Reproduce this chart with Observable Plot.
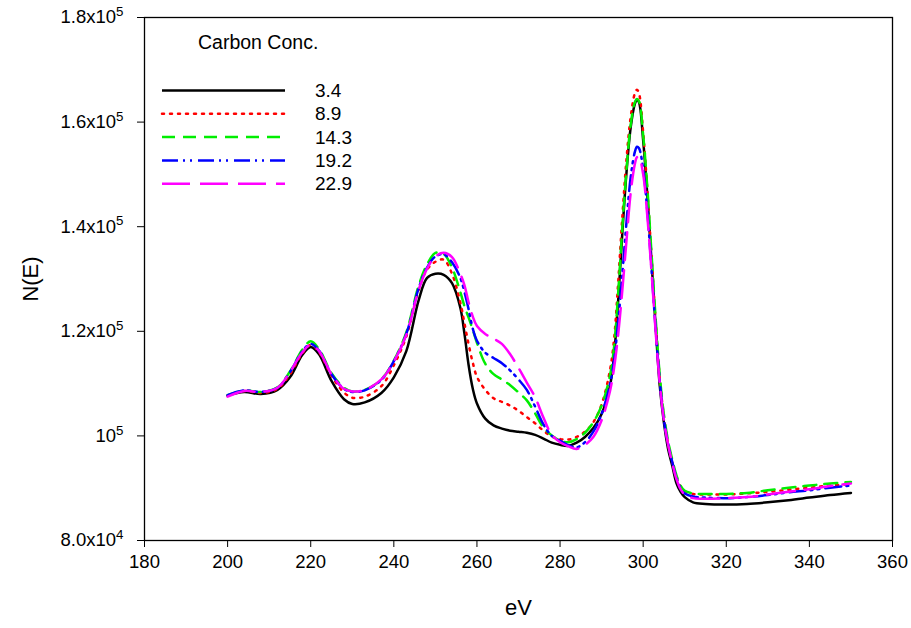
<!DOCTYPE html>
<html>
<head>
<meta charset="utf-8">
<script src="https://cdn.jsdelivr.net/npm/d3@7"></script>
<script src="https://cdn.jsdelivr.net/npm/@observablehq/plot@0.6"></script>
<style>
  body { margin: 0; background: #fff; }
  #wrap { position: relative; width: 911px; height: 628px; }
  #wrap svg { position: absolute; left: 0; top: 0; }
</style>
</head>
<body>
<div id="wrap"></div>
<script>
// Energy (eV) sample points
const eV = [200,204,208,212,215,218,220,222,225,228,230,233,237,240,243,246,248,250,252,254,256,257,258,259,260,262,264,266,268,270,272,274,276,278,280,282,284,286,288,290,292,293,294,295,296,297,298,298.5,299,300,301,302,303,304,305,306,307,308,309,310,312,315,320,325,330,335,340,345,350];

// N(E) in units of 10^3
const c34 = [107.7,108.4,108.0,108.8,111.2,115.5,117.0,115.6,110.5,107.0,106.1,106.4,108.2,111.2,116.2,126.0,130.2,131.0,130.8,129.2,124.5,119.5,113.5,109.0,106.2,103.3,102.0,101.4,101.0,100.8,100.6,100.2,99.5,98.7,98.3,98.1,98.7,99.8,101.5,104.2,109.5,115.5,126.0,139.0,150.5,159.0,163.5,164.3,163.8,156.5,146.0,133.5,121.0,109.5,102.5,97.5,94.3,91.0,89.3,88.3,87.3,87.0,86.9,87.0,87.3,87.7,88.2,88.7,89.1];
const c89 = [107.7,108.6,108.2,109.0,111.8,115.8,117.4,116.0,111.5,108.3,107.3,107.5,109.5,113.5,119.0,128.0,131.8,133.3,133.7,131.0,125.5,121.5,117.5,114.0,111.3,108.8,107.2,106.5,105.8,104.8,103.6,102.4,101.0,99.9,99.4,99.3,99.8,100.8,102.6,106.0,112.5,118.5,129.5,142.0,153.0,161.0,165.5,166.2,165.5,158.0,147.0,134.5,122.0,111.0,103.5,98.5,95.0,92.0,90.3,89.4,88.9,88.8,88.8,89.0,89.3,89.7,90.1,90.5,90.8];
const c143 = [107.8,108.7,108.4,109.3,112.3,116.5,118.1,116.6,112.0,109.2,108.5,108.8,110.8,114.4,119.8,128.8,132.8,135.0,134.8,132.2,127.5,124.8,122.6,120.3,117.8,113.8,111.8,110.8,109.7,108.3,106.8,104.3,101.6,100.1,99.1,98.8,99.4,100.6,102.6,105.8,111.5,117.0,127.5,140.0,151.0,159.5,163.8,164.4,164.0,157.5,147.5,135.0,122.5,111.5,104.0,99.0,95.5,92.5,90.5,89.5,89.0,88.9,88.9,89.1,89.6,90.1,90.5,90.9,91.2];
const c192 = [107.8,108.7,108.4,109.2,112.2,116.2,117.6,116.3,111.8,109.0,108.4,108.7,110.7,114.3,119.5,128.3,132.2,134.3,134.7,133.2,130.2,127.5,124.2,120.5,118.2,115.9,114.9,113.9,112.5,110.8,108.8,105.6,102.2,100.0,99.1,98.2,97.8,98.8,100.8,104.2,109.8,114.5,122.0,131.0,141.0,149.5,154.3,155.3,155.0,151.0,143.0,132.0,120.5,110.5,103.0,98.5,95.0,92.0,90.0,89.0,88.4,88.2,88.1,88.3,88.7,89.2,89.6,90.1,90.5];
const c229 = [107.5,108.6,108.4,109.2,112.2,116.0,117.4,116.2,111.8,109.0,108.5,108.8,110.8,114.2,119.3,128.0,132.0,134.3,135.0,134.2,131.0,128.8,125.5,122.8,121.0,119.5,118.6,117.6,115.6,113.0,110.2,107.4,103.5,100.2,98.8,98.0,97.5,98.3,99.8,103.0,108.5,113.0,119.5,128.0,137.5,146.5,152.0,153.3,153.3,150.0,142.0,131.5,120.0,110.0,103.0,98.3,94.8,91.8,89.8,88.8,88.1,88.0,88.1,88.3,88.8,89.3,89.8,90.4,90.9];

const seriesNames = ["3.4","8.9","14.3","19.2","22.9"];
const seriesValues = [c34, c89, c143, c192, c229];
const seriesColors = ["#000000","#ff0000","#00ee00","#0000ff","#ff00ff"];
const seriesDash = [null, "2,6", "13,8", "16,5,2,5,2,6", "28,10"];

const xTicks = [180,200,220,240,260,280,300,320,340,360];
const yTicks = [80,100,120,140,160,180];
const yTickLabels = ["8.0x10^4","10^5","1.2x10^5","1.4x10^5","1.6x10^5","1.8x10^5"];

const legendTitle = "Carbon Conc.";

const FONT = "'Liberation Sans', Arial, Helvetica, sans-serif";

const marks = [];
seriesValues.forEach((vals, i) => {
  const rows = eV.map((x, j) => ({x, y: vals[j]}));
  const opts = {x: "x", y: "y", stroke: seriesColors[i], strokeWidth: 2.5, curve: "catmull-rom"};
  if (seriesDash[i]) opts.strokeDasharray = seriesDash[i];
  if (i === 1) opts.strokeLinecap = "round";
  marks.push(Plot.line(rows, opts));
});
marks.push(Plot.frame({stroke: "black", strokeWidth: 1.3}));
marks.push(Plot.axisX({ticks: xTicks, tickSize: 7, tickPadding: 7, fontSize: 18.5, label: "eV", labelAnchor: "center", labelOffset: 74, labelArrow: "none"}));
marks.push(Plot.axisY({ticks: yTicks, tickSize: 7, tickPadding: 14, fontSize: 18.5,
  tickFormat: d => yTickLabels[yTicks.indexOf(d)],
  label: "N(E)", labelAnchor: "center", labelOffset: 122, labelArrow: "none"}));

const chart = Plot.plot({
  width: 911,
  height: 628,
  marginLeft: 144,
  marginRight: 19,
  marginTop: 17,
  marginBottom: 88,
  style: {fontFamily: FONT, fontSize: "18px", color: "black", background: "white"},
  x: {domain: [180, 360]},
  y: {domain: [80, 180]},
  marks
});

document.getElementById("wrap").appendChild(chart);

// superscripts on y tick labels
d3.select(chart).selectAll('g[aria-label="y-axis tick label"] text').each(function() {
  const t = d3.select(this);
  const s = t.text();
  if (s.includes("^")) {
    const [base, exp] = s.split("^");
    t.text(null);
    t.append("tspan").text(base);
    t.append("tspan").attr("dy", "-0.55em").attr("font-size", "0.72em").text(exp);
  }
});
// axis title sizes
d3.select(chart).selectAll('g[aria-label="x-axis label"] text, g[aria-label="y-axis label"] text')
  .attr("font-size", 22);

// legend overlay
const leg = d3.select("#wrap").append("svg")
  .attr("width", 911).attr("height", 628)
  .style("font-family", FONT).style("pointer-events", "none");
leg.append("text").attr("x", 198).attr("y", 42).attr("dy", "0.35em")
  .attr("font-size", 19.5).text(legendTitle);
seriesNames.forEach((name, i) => {
  const y = 90.5 + i * 23.3;
  const ln = leg.append("line").attr("x1", 162).attr("x2", 285).attr("y1", y).attr("y2", y)
    .attr("stroke", seriesColors[i]).attr("stroke-width", 2.5);
  if (seriesDash[i]) ln.attr("stroke-dasharray", seriesDash[i]);
  if (i === 1) ln.attr("stroke-linecap", "round");
  leg.append("text").attr("x", 315).attr("y", y).attr("dy", "0.35em")
    .attr("font-size", 19).text(name);
});
</script>
</body>
</html>
